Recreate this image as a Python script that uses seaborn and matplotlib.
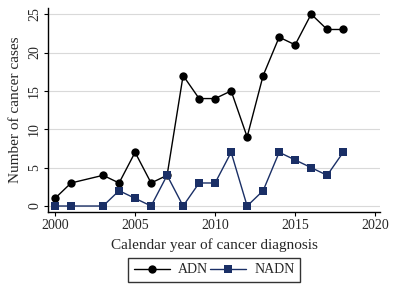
import numpy as np
import pandas as pd
import matplotlib
matplotlib.use("Agg")
import matplotlib.pyplot as plt
import seaborn as sns

years = [2000, 2001, 2003, 2004, 2005, 2006, 2007, 2008, 2009, 2010,
         2011, 2012, 2013, 2014, 2015, 2016, 2017, 2018]
adn = [1, 3, 4, 3, 7, 3, 4, 17, 14, 14, 15, 9, 17, 22, 21, 25, 23, 23]
nadn = [0, 0, 0, 2, 1, 0, 4, 0, 3, 3, 7, 0, 2, 7, 6, 5, 4, 7]

df = pd.DataFrame({"year": years * 2,
                   "cases": adn + nadn,
                   "group": ["ADN"] * len(years) + ["NADN"] * len(years)})

sns.set_style("white")
plt.rcParams['font.family'] = ['Liberation Serif', 'DejaVu Serif']

fig = plt.figure(figsize=(3.96, 2.87), dpi=100)
ax = fig.add_axes([48/396, 1 - 212/287, 332/396, 204/287])

sns.lineplot(data=df, x="year", y="cases", hue="group", style="group",
             palette={"ADN": "black", "NADN": "#1a2f66"},
             markers={"ADN": "o", "NADN": "s"}, dashes=False,
             markersize=6, linewidth=1, markeredgewidth=0, ax=ax)

ax.set_xlim(1999.56, 2020.3)
ax.set_ylim(-0.78, 25.8)
ax.set_xticks([2000, 2005, 2010, 2015, 2020])
ax.set_yticks([0, 5, 10, 15, 20, 25])
ax.yaxis.grid(True, color="#d9d9d9", linewidth=0.8)
ax.set_axisbelow(True)
for s in ["top", "right"]:
    ax.spines[s].set_visible(False)
for s in ["left", "bottom"]:
    ax.spines[s].set_color("black")
    ax.spines[s].set_linewidth(1)
ax.tick_params(axis="both", labelsize=10, length=3, color="black", direction="out",
               bottom=True, left=True, pad=2)
for lab in ax.get_yticklabels():
    lab.set_rotation(90)
    lab.set_va("center")
ax.set_xlabel("Calendar year of cancer diagnosis", fontsize=11, labelpad=4.5)
ax.set_ylabel("Number of cancer cases", fontsize=11, labelpad=4)

handles, labels = ax.get_legend_handles_labels()
ax.legend(handles, labels, loc="upper center", bbox_to_anchor=(0.5, -0.225),
          ncol=2, frameon=True, fancybox=False, edgecolor="black",
          fontsize=10, handlelength=2.6, columnspacing=0.1, handletextpad=0.6,
          borderpad=0.4, borderaxespad=0, title=None)
ax.get_legend().get_frame().set_linewidth(1)

plt.savefig("out.png", dpi=100)
